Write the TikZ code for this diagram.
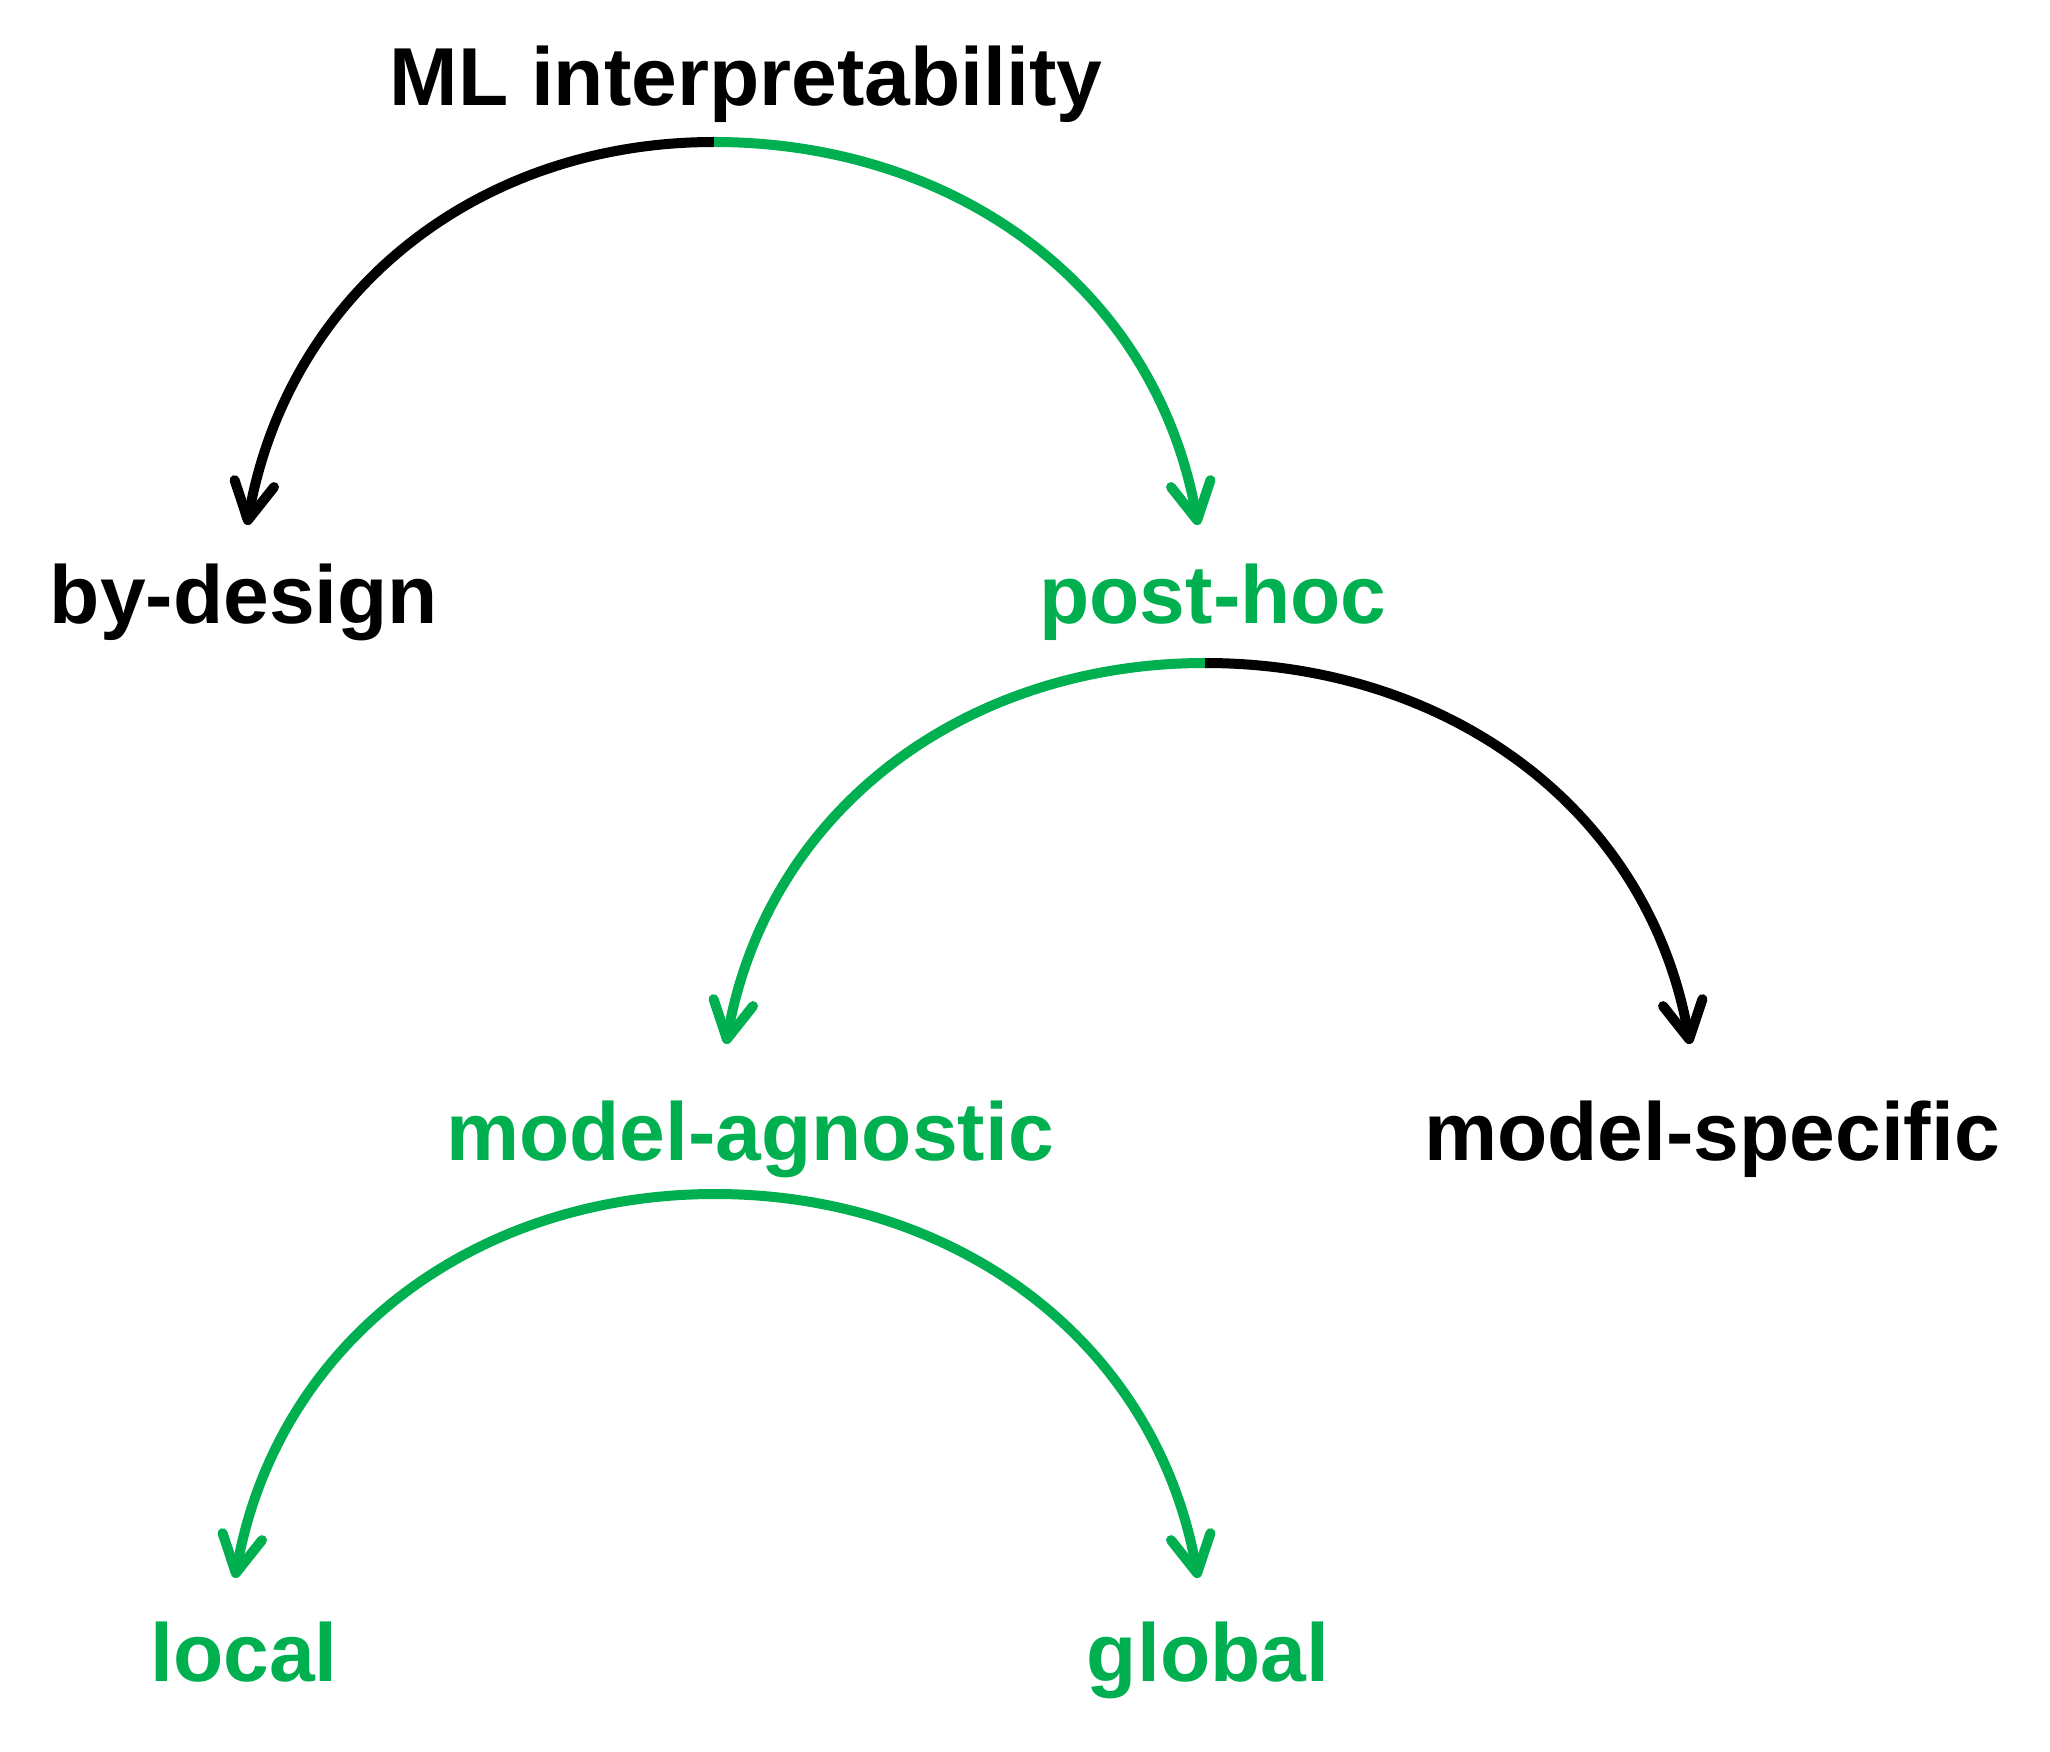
\documentclass[tikz,border=0pt]{standalone}
\usepackage{fontspec}
\setmainfont{Liberation Sans}
\usepackage{tikz}
\usetikzlibrary{arrows.meta}

\definecolor{offgreen}{RGB}{0,176,80}
\tikzset{
  lbl/.style={font=\fontsize{23.4pt}{28pt}\selectfont\bfseries, anchor=base, inner sep=0pt},
  branch/.style={line width=0.1cm, -{Straight Barb[length=0.37cm, width=0.40cm, line cap=round, line join=round]}}
}

\begin{document}
\begin{tikzpicture}
  \useasboundingbox (0,0) rectangle (20.5,17.51);

      \draw (7.46,16.45) node[lbl] (mlint) {ML interpretability};
  \draw (2.44,11.27) node[lbl] (bydesign) {by-design};
  \draw (12.13,11.27) node[lbl, offgreen] (posthoc) {post-hoc};
      \draw (7.50,5.91) node[lbl, offgreen] (agnostic) {model-agnostic};
  \draw (17.12,5.91) node[lbl] (specific) {model-specific};
      \draw (2.44,0.70) node[lbl, offgreen] (local) {local};
  \draw (12.08,0.70) node[lbl, offgreen] (global) {global};

      \path[branch, black] ([shift={(-0.32,-0.36)}]mlint.base) edge[out=180, in=80] ([shift={(0.03,0.99)}]bydesign.base);
      \path[branch, offgreen] ([shift={(-0.32,-0.36)}]mlint.base) edge[out=0, in=100] ([shift={(-0.15,0.99)}]posthoc.base);

      \path[branch, offgreen] ([shift={(-0.08,-0.39)}]posthoc.base) edge[out=180, in=80] ([shift={(-0.24,1.16)}]agnostic.base);
      \path[branch, black] ([shift={(-0.08,-0.39)}]posthoc.base) edge[out=0, in=100] ([shift={(-0.22,1.16)}]specific.base);

      \path[branch, offgreen] ([shift={(-0.35,-0.34)}]agnostic.base) edge[out=180, in=80] ([shift={(-0.09,1.03)}]local.base);
      \path[branch, offgreen] ([shift={(-0.35,-0.34)}]agnostic.base) edge[out=0, in=100] ([shift={(-0.10,1.03)}]global.base);
\end{tikzpicture}
\end{document}
